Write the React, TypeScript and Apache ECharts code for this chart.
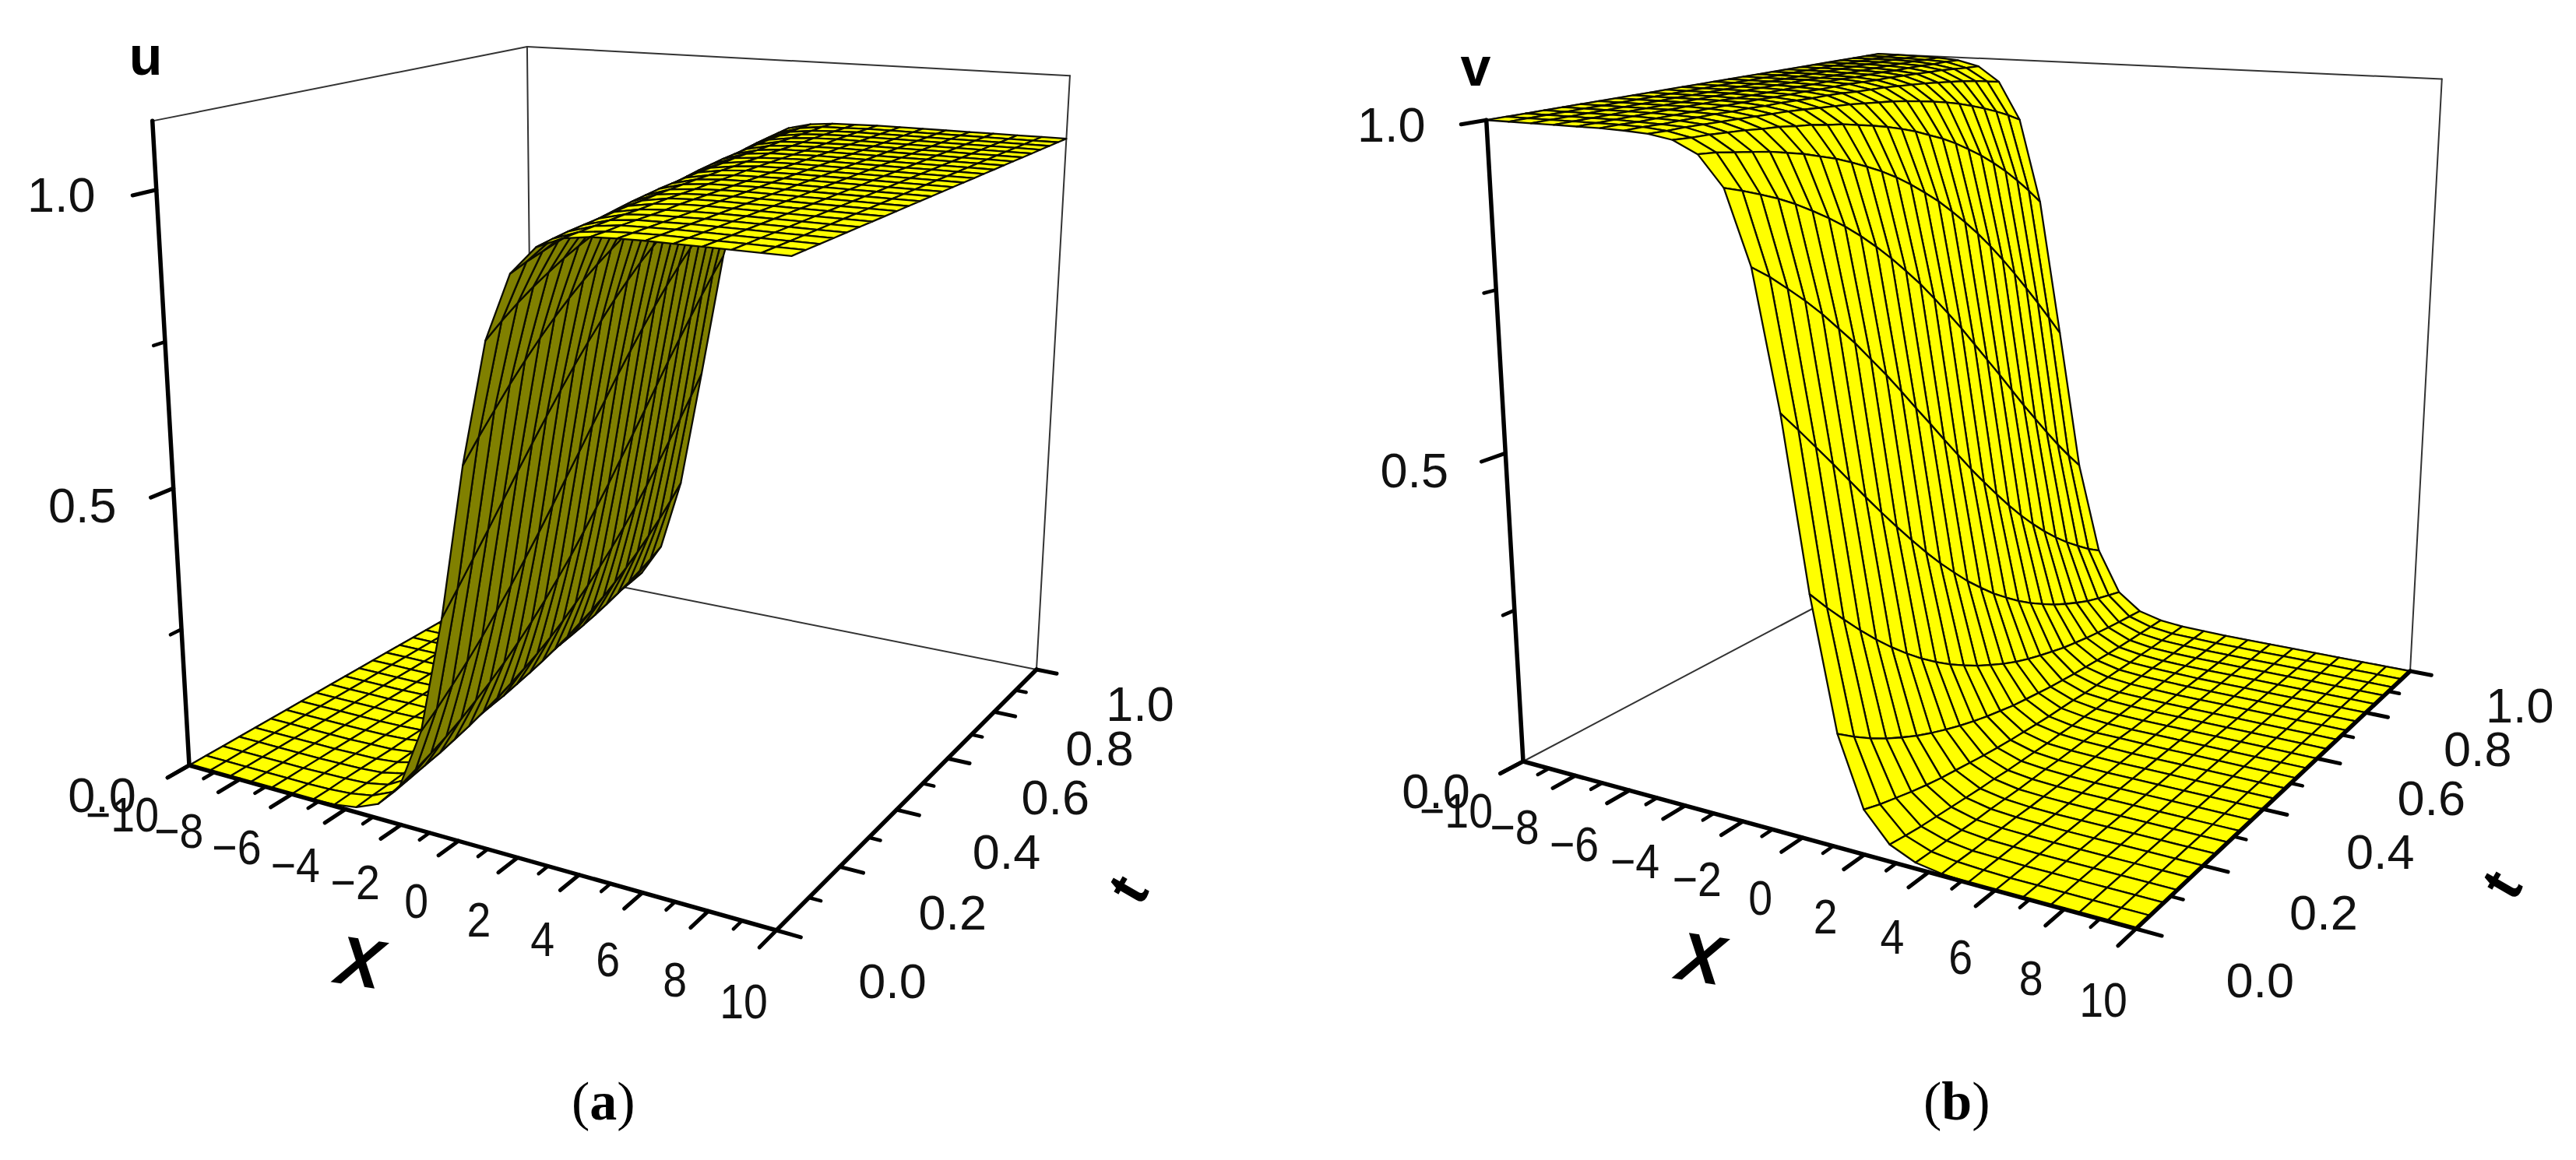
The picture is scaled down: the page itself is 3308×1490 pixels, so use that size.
import React, { useEffect, useRef } from "react";
import * as echarts from "echarts";

const xGrid = [-10,-9.2,-8.4,-7.6,-6.8,-6,-5.2,-4.4,-3.6,-2.8,-2,-1.2,-0.4,0.4,1.2,2,2.8,3.6,4.4,5.2,6,6.8,7.6,8.4,9.2,10];
const tGrid = [0,.04,.08,.12,.16,.2,.24,.28,.32,.36,.4,.44,.48,.52,.56,.6,.64,.68,.72,.76,.8,.84,.88,.92,.96,1];

const uRows = [
  [0,0,0,0,0,0,.001,.003,.009,.026,.069,.174,.373,.627,.826,.931,.974,.991,.997,.999,1,1,1,1,1,1],
  [0,0,0,0,0,0,.001,.004,.011,.029,.079,.195,.407,.660,.846,.940,.978,.992,.997,.999,1,1,1,1,1,1],
  [0,0,0,0,0,.001,.002,.004,.012,.034,.090,.219,.442,.691,.864,.947,.981,.993,.998,.999,1,1,1,1,1,1],
  [0,0,0,0,0,.001,.002,.005,.014,.039,.102,.244,.477,.721,.880,.954,.983,.994,.998,.999,1,1,1,1,1,1],
  [0,0,0,0,0,.001,.002,.006,.016,.044,.116,.271,.513,.749,.894,.960,.985,.995,.998,.999,1,1,1,1,1,1],
  [0,0,0,0,0,.001,.002,.007,.019,.051,.132,.301,.549,.775,.907,.965,.987,.995,.998,.999,1,1,1,1,1,1],
  [0,0,0,0,0,.001,.003,.008,.021,.058,.149,.331,.584,.799,.918,.969,.989,.996,.999,1,1,1,1,1,1,1],
  [0,0,0,0,0,.001,.003,.009,.025,.067,.168,.364,.618,.821,.928,.973,.990,.997,.999,1,1,1,1,1,1,1],
  [0,0,0,0,0,.001,.004,.010,.028,.076,.189,.397,.651,.841,.937,.977,.992,.997,.999,1,1,1,1,1,1,1],
  [0,0,0,0,.001,.001,.004,.012,.033,.087,.212,.432,.683,.859,.945,.980,.993,.997,.999,1,1,1,1,1,1,1],
  [0,0,0,0,.001,.002,.005,.014,.037,.099,.237,.468,.713,.875,.952,.983,.994,.998,.999,1,1,1,1,1,1,1],
  [0,0,0,0,.001,.002,.006,.016,.043,.112,.264,.503,.741,.890,.958,.985,.995,.998,.999,1,1,1,1,1,1,1],
  [0,0,0,0,.001,.002,.006,.018,.049,.127,.292,.539,.768,.903,.964,.987,.995,.998,.999,1,1,1,1,1,1,1],
  [0,0,0,0,.001,.003,.007,.021,.056,.144,.323,.574,.792,.915,.968,.989,.996,.999,.999,1,1,1,1,1,1,1],
  [0,0,0,0,.001,.003,.009,.024,.064,.163,.355,.609,.815,.926,.972,.990,.996,.999,1,1,1,1,1,1,1,1],
  [0,0,0,0,.001,.003,.010,.027,.073,.183,.388,.642,.835,.935,.976,.991,.997,.999,1,1,1,1,1,1,1,1],
  [0,0,0,.001,.001,.004,.011,.031,.084,.206,.423,.674,.854,.943,.979,.993,.997,.999,1,1,1,1,1,1,1,1],
  [0,0,0,.001,.002,.005,.013,.036,.095,.230,.458,.705,.871,.950,.982,.994,.998,.999,1,1,1,1,1,1,1,1],
  [0,0,0,.001,.002,.005,.015,.041,.108,.256,.493,.734,.886,.957,.984,.994,.998,.999,1,1,1,1,1,1,1,1],
  [0,0,0,.001,.002,.006,.017,.047,.123,.284,.529,.761,.900,.962,.986,.995,.998,.999,1,1,1,1,1,1,1,1],
  [0,0,0,.001,.003,.007,.020,.054,.139,.314,.565,.786,.912,.967,.988,.996,.998,.999,1,1,1,1,1,1,1,1],
  [0,0,0,.001,.003,.008,.023,.062,.157,.346,.599,.809,.923,.971,.990,.996,.999,1,1,1,1,1,1,1,1,1],
  [0,0,0,.001,.003,.009,.026,.071,.177,.379,.633,.830,.933,.975,.991,.997,.999,1,1,1,1,1,1,1,1,1],
  [0,0,0,.001,.004,.011,.030,.081,.199,.413,.666,.849,.941,.978,.992,.997,.999,1,1,1,1,1,1,1,1,1],
  [0,0,.001,.002,.004,.013,.035,.092,.223,.448,.697,.867,.948,.981,.993,.998,.999,1,1,1,1,1,1,1,1,1],
  [0,0,.001,.002,.005,.014,.040,.105,.249,.484,.726,.882,.955,.984,.994,.998,.999,1,1,1,1,1,1,1,1,1],
];

const vRows = [
  [1,1,1,1,1,1,.999,.997,.991,.974,.931,.826,.627,.373,.174,.069,.026,.009,.003,.001,0,0,0,0,0,0],
  [1,1,1,1,1,1,.999,.996,.989,.971,.921,.805,.593,.340,.154,.060,.022,.008,.003,.001,0,0,0,0,0,0],
  [1,1,1,1,1,.999,.998,.996,.988,.966,.910,.781,.558,.309,.136,.053,.019,.007,.002,.001,0,0,0,0,0,0],
  [1,1,1,1,1,.999,.998,.995,.986,.961,.898,.756,.523,.279,.120,.046,.017,.006,.002,.001,0,0,0,0,0,0],
  [1,1,1,1,1,.999,.998,.994,.984,.956,.884,.729,.487,.251,.106,.040,.015,.005,.002,.001,0,0,0,0,0,0],
  [1,1,1,1,1,.999,.998,.993,.981,.949,.868,.699,.451,.225,.093,.035,.013,.005,.002,.001,0,0,0,0,0,0],
  [1,1,1,1,1,.999,.997,.992,.979,.942,.851,.669,.416,.201,.082,.031,.011,.004,.001,0,0,0,0,0,0,0],
  [1,1,1,1,1,.999,.997,.991,.975,.933,.832,.636,.382,.179,.072,.027,.010,.003,.001,0,0,0,0,0,0,0],
  [1,1,1,1,1,.999,.996,.990,.972,.924,.811,.603,.349,.159,.063,.023,.008,.003,.001,0,0,0,0,0,0,0],
  [1,1,1,1,.999,.999,.996,.988,.967,.913,.788,.568,.317,.141,.055,.020,.007,.003,.001,0,0,0,0,0,0,0],
  [1,1,1,1,.999,.998,.995,.986,.963,.901,.763,.532,.287,.125,.048,.017,.006,.002,.001,0,0,0,0,0,0,0],
  [1,1,1,1,.999,.998,.994,.984,.957,.888,.736,.497,.259,.110,.042,.015,.005,.002,.001,0,0,0,0,0,0,0],
  [1,1,1,1,.999,.998,.994,.982,.951,.873,.708,.461,.232,.097,.036,.013,.005,.002,.001,0,0,0,0,0,0,0],
  [1,1,1,1,.999,.997,.993,.979,.944,.856,.677,.426,.208,.085,.032,.011,.004,.001,.001,0,0,0,0,0,0,0],
  [1,1,1,1,.999,.997,.991,.976,.936,.837,.645,.391,.185,.074,.028,.010,.004,.001,0,0,0,0,0,0,0,0],
  [1,1,1,1,.999,.997,.990,.973,.927,.817,.612,.358,.165,.065,.024,.009,.003,.001,0,0,0,0,0,0,0,0],
  [1,1,1,.999,.999,.996,.989,.969,.916,.794,.577,.326,.146,.057,.021,.007,.003,.001,0,0,0,0,0,0,0,0],
  [1,1,1,.999,.998,.995,.987,.964,.905,.770,.542,.295,.129,.050,.018,.006,.002,.001,0,0,0,0,0,0,0,0],
  [1,1,1,.999,.998,.995,.985,.959,.892,.744,.507,.266,.114,.043,.016,.006,.002,.001,0,0,0,0,0,0,0,0],
  [1,1,1,.999,.998,.994,.983,.953,.877,.716,.471,.239,.100,.038,.014,.005,.002,.001,0,0,0,0,0,0,0,0],
  [1,1,1,.999,.997,.993,.980,.946,.861,.686,.435,.214,.088,.033,.012,.004,.002,.001,0,0,0,0,0,0,0,0],
  [1,1,1,.999,.997,.992,.977,.938,.843,.654,.401,.191,.077,.029,.010,.004,.001,0,0,0,0,0,0,0,0,0],
  [1,1,1,.999,.997,.991,.974,.929,.823,.621,.367,.170,.067,.025,.009,.003,.001,0,0,0,0,0,0,0,0,0],
  [1,1,1,.999,.996,.989,.970,.919,.801,.587,.334,.151,.059,.022,.008,.003,.001,0,0,0,0,0,0,0,0,0],
  [1,1,.999,.998,.996,.987,.965,.908,.777,.552,.303,.133,.052,.019,.007,.002,.001,0,0,0,0,0,0,0,0,0],
  [1,1,.999,.998,.995,.986,.960,.895,.751,.516,.274,.118,.045,.016,.006,.002,.001,0,0,0,0,0,0,0,0,0],
];

const xTicks = [-10,-9,-8,-7,-6,-5,-4,-3,-2,-1,0,1,2,3,4,5,6,7,8,9,10];
const xLabels = [-10,-8,-6,-4,-2,0,2,4,6,8,10];
const tTicks = [0,0.1,0.2,0.3,0.4,0.5,0.6,0.7,0.8,0.9,1];
const tLabels = [0,0.2,0.4,0.6,0.8,1];
const zTicks = [0,0.25,0.5,0.75,1];
const zLabels = [0,0.5,1];

type P = [number, number];
function makeProjector(c: { o: P; xe: P; te: P; b: P; top: [number, number, P][]; zMax: number }) {
  const [x0, y0] = c.o, [x1, y1] = c.xe, [x2, y2] = c.te, [x3, y3] = c.b;
  const dx1 = x1 - x2, dx2 = x3 - x2, dx3 = x0 - x1 + x2 - x3;
  const dy1 = y1 - y2, dy2 = y3 - y2, dy3 = y0 - y1 + y2 - y3;
  const den = dx1 * dy2 - dx2 * dy1;
  const g = (dx3 * dy2 - dx2 * dy3) / den, h = (dx1 * dy3 - dx3 * dy1) / den;
  const A = x1 - x0 + g * x1, B = x3 - x0 + h * x3, D = y1 - y0 + g * y1, E = y3 - y0 + h * y3;
  const rows = c.top.map(([a, b, p]) => {
    const w = g * a + h * b + 1;
    return { X: p[0], Y: p[1], u: p[0] * w - (A * a + B * b + x0), v: p[1] * w - (D * a + E * b + y0) };
  });
  const mean = (f: (r: any) => number) => rows.reduce((s, r) => s + f(r), 0) / rows.length;
  const Xm = mean((r) => r.X), Ym = mean((r) => r.Y), um = mean((r) => r.u), vm = mean((r) => r.v);
  let n = 0, d = 0;
  rows.forEach((r) => {
    n += (r.X - Xm) * (r.u - um) + (r.Y - Ym) * (r.v - vm);
    d += (r.X - Xm) ** 2 + (r.Y - Ym) ** 2;
  });
  const R = -n / d, Pz = um + Xm * R, Qz = vm + Ym * R;
  return (x: number, t: number, z: number): P => {
    const a = (x + 10) / 20, b = t, cz = z / c.zMax;
    const w = g * a + h * b + R * cz + 1;
    return [(A * a + B * b + Pz * cz + x0) / w, (D * a + E * b + Qz * cz + y0) / w];
  };
}

function panelSeries(cfg: any) {
  const pr = makeProjector(cfg.cam);
  const Z = cfg.zMax;
  const back: number[][] = [
    [-10, 0, Z, -10, 1, Z], [-10, 1, Z, 10, 1, Z], [-10, 1, 0, -10, 1, Z], [10, 1, 0, 10, 1, Z],
    [-10, 0, 0, -10, 1, 0], [-10, 1, 0, 10, 1, 0],
  ];
  const cells: number[][] = [];
  for (let j = tGrid.length - 2; j >= 0; j--) for (let i = 0; i < xGrid.length - 1; i++) cells.push([i, j]);
  const thick: number[][] = [
    [-10, 0, 0, 10, 0, 0, 5.5], [10, 0, 0, 10, 1, 0, 5.5], [-10, 0, 0, -10, 0, Z, 5.5],
  ];
  xTicks.forEach((x) => { const L = x % 2 === 0; thick.push([x, 0, 0, x, L ? -0.05 : -0.025, 0, L ? 5 : 4.5]); });
  tTicks.forEach((t, k) => { const L = k % 2 === 0; thick.push([10, t, 0, L ? 10.7 : 10.35, t, 0, L ? 5 : 4.5]); });
  zTicks.forEach((z, k) => { const L = k % 2 === 0; thick.push([-10, 0, z, -10, L ? -0.05 : -0.025, z, L ? 5 : 4.5]); });
  const labels: any[] = [];
  xLabels.forEach((x) => {
    const p = pr(x, 0, 0);
    const bump = 10 * (1 - (x / 10) * (x / 10));
    labels.push({ text: x < 0 ? "\u2212" + -x : String(x), x: p[0] - 64 + 2.2 * x + bump, y: p[1] + 77 + 1.4 * x, tick: true, sx: 0.88 });
  });
  tLabels.forEach((t) => {
    const p = pr(13.9, t, 0);
    labels.push({ text: t.toFixed(1), x: p[0] - 31 + 16 * t, y: p[1] + 14, tick: true, sx: 1 });
  });
  zLabels.forEach((z) => {
    const p = pr(-10, 0, z);
    labels.push({ text: z.toFixed(1), x: p[0] - 112 - 10 * z, y: p[1] + 38 - 32 * z, tick: true, sx: 1 });
  });
  labels.push(...cfg.letters);
  const line = (s: number[], w: number, color: string) => {
    const a = pr(s[0], s[1], s[2]), b = pr(s[3], s[4], s[5]);
    return { type: "line", shape: { x1: a[0], y1: a[1], x2: b[0], y2: b[1] }, style: { stroke: color, lineWidth: w, lineCap: "round" }, silent: true };
  };
  const base = { type: "custom", coordinateSystem: "none", silent: true, animation: false, progressive: 0, clip: false };
  return [
    { ...base, data: back, renderItem: (p: any) => line(back[p.dataIndex], 2, "#333333") },
    {
      ...base,
      data: cells,
      renderItem: (p: any) => {
        const [i, j] = cells[p.dataIndex];
        const q = [
          pr(xGrid[i], tGrid[j], cfg.rows[j][i]),
          pr(xGrid[i + 1], tGrid[j], cfg.rows[j][i + 1]),
          pr(xGrid[i + 1], tGrid[j + 1], cfg.rows[j + 1][i + 1]),
          pr(xGrid[i], tGrid[j + 1], cfg.rows[j + 1][i]),
        ];
        let area = 0;
        q.forEach((a, k) => { const b = q[(k + 1) % 4]; area += a[0] * b[1] - b[0] * a[1]; });
        return { type: "polygon", shape: { points: q }, style: { fill: area < 0 ? "#ffff00" : "#808000", stroke: "#0c0c00", lineWidth: 2.3, lineJoin: "round" }, silent: true };
      },
    },
    { ...base, data: thick, renderItem: (p: any) => line(thick[p.dataIndex], thick[p.dataIndex][6], "#000000") },
    {
      ...base,
      data: labels.map((_, k) => [k]),
      renderItem: (p: any) => {
        const l = labels[p.dataIndex];
        if (l.tick) {
          return { type: "text", x: l.x, y: l.y, scaleX: l.sx, silent: true,
            style: { text: l.text, fontFamily: "Liberation Sans", fontSize: 63, fill: "#111111", align: "center", verticalAlign: "middle" } };
        }
        return { type: "text", x: l.x, y: l.y, rotation: l.rot || 0, silent: true,
          style: { text: l.text, fontFamily: "Liberation Sans", fontWeight: "bold", fontStyle: l.italic ? "italic" : "normal", fontSize: l.size, fill: "#000000", align: "center", verticalAlign: "middle" } };
      },
    },
  ];
}

export default function App() {
  const ref = useRef<HTMLDivElement>(null);
  useEffect(() => {
    document.body.style.margin = "0";
    const chart = echarts.init(ref.current!, undefined, { renderer: "svg" });
    const a = panelSeries({
      rows: uRows, zMax: 1.11,
      cam: { o: [243, 983], xe: [997, 1195], te: [1331, 860], b: [684, 731], zMax: 1.11,
        top: [[0, 0, [190, 144]], [0, 1, [684, 63]], [1, 1, [1371, 104]]] },
      letters: [
        { text: "u", x: 187, y: 72, size: 70 },
        { text: "X", x: 462, y: 1236, size: 88, italic: true, rot: -0.15 },
        { text: "t", x: 1448, y: 1142, size: 75, rot: 1.05 },
      ],
    });
    const b = panelSeries({
      rows: vRows, zMax: 1,
      cam: { o: [1956, 978], xe: [2743, 1193], te: [3095, 862], b: [2420, 733], zMax: 1,
        top: [[0, 0, [1903, 150]], [0, 1, [2420, 66]], [1, 1, [3132, 109]]] },
      letters: [
        { text: "v", x: 1895, y: 86, size: 70 },
        { text: "X", x: 2184, y: 1231, size: 88, italic: true, rot: -0.15 },
        { text: "t", x: 3212, y: 1136, size: 75, rot: 1.05 },
      ],
    });
    const caption = (x: number, letter: string) => ({
      type: "text", left: x, top: 1379,
      style: { text: "{n|(}{b|" + letter + "}{n|)}", rich: { n: { fontFamily: "Liberation Serif", fontSize: 70, fill: "#000" }, b: { fontFamily: "Liberation Serif", fontWeight: "bold", fontSize: 70, fill: "#000" } } },
    });
    chart.setOption({
      animation: false,
      backgroundColor: "#ffffff",
      graphic: [caption(734, "a"), caption(2470, "b")],
      series: [...a, ...b],
    });
    return () => chart.dispose();
  }, []);
  return <div ref={ref} style={{ width: 3308, height: 1490 }} />;
}
